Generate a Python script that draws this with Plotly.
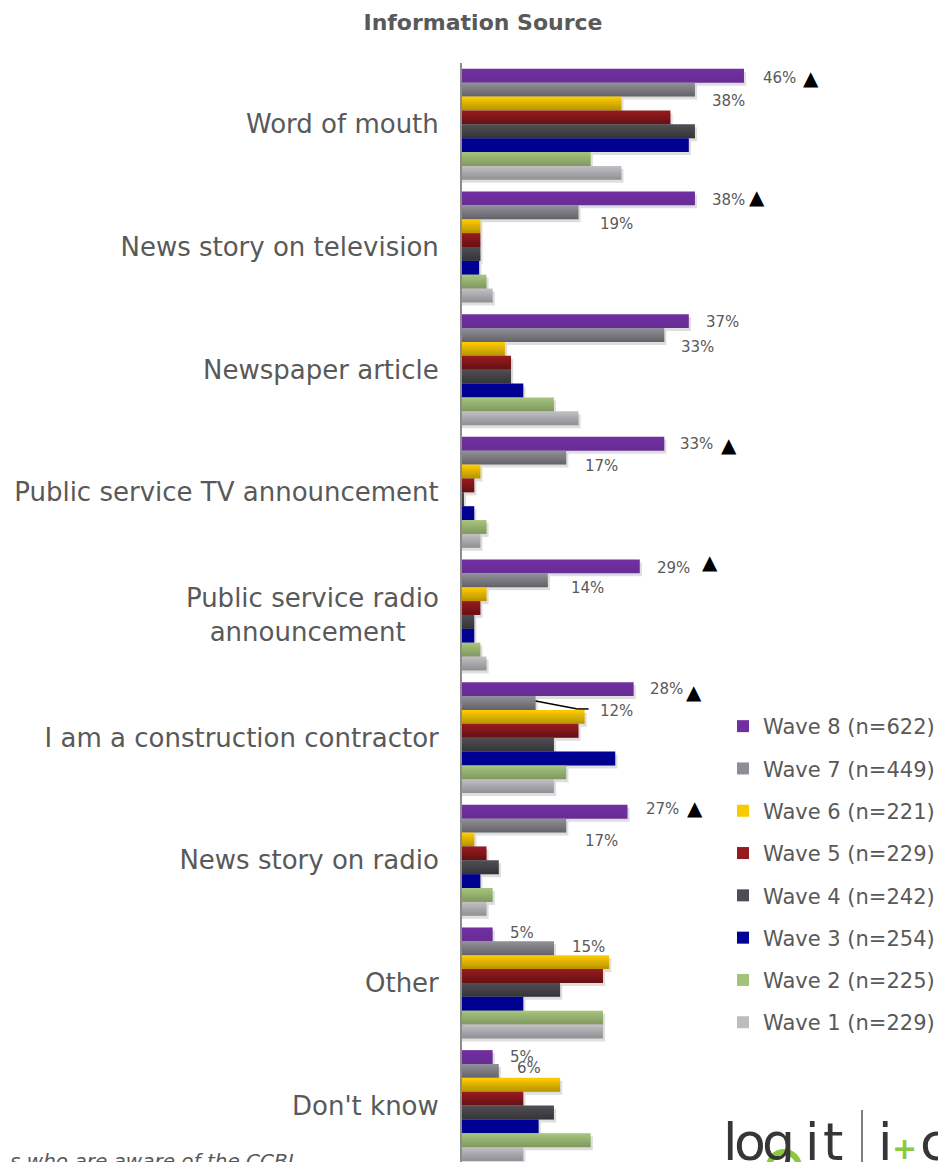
import plotly.graph_objects as go

# ---- data -----------------------------------------------------------------
categories = [
    "Word of mouth",
    "News story on television",
    "Newspaper article",
    "Public service TV announcement",
    "Public service radio<br>announcement\u00a0\u00a0\u00a0\u00a0",
    "I am a construction contractor",
    "News story on radio",
    "Other",
    "Don't know",
]

series_names = [
    "Wave 8 (n=622)", "Wave 7 (n=449)", "Wave 6 (n=221)", "Wave 5 (n=229)",
    "Wave 4 (n=242)", "Wave 3 (n=254)", "Wave 2 (n=225)", "Wave 1 (n=229)",
]

wave8 = [46, 38, 37, 33, 29, 28, 27, 5, 5]
wave7 = [38, 19, 33, 17, 14, 12, 17, 15, 6]
wave6 = [26, 3, 7, 3, 4, 20, 2, 24, 16]
wave5 = [34, 3, 8, 2, 3, 19, 4, 23, 10]
wave4 = [38, 3, 8, 0.3, 2, 15, 6, 16, 15]
wave3 = [37, 2.8, 10, 2, 2, 25, 3, 10, 12.5]
wave2 = [21, 4, 15, 4, 3, 17, 5, 23, 21]
wave1 = [26, 5, 19, 3, 4, 15, 4, 23, 10]

series_values = [wave8, wave7, wave6, wave5, wave4, wave3, wave2, wave1]

# significant increase markers (category indices with a triangle after Wave 8 label)
significant = [0, 1, 3, 4, 5, 6]

# ---- styling ----------------------------------------------------------------
colors = ["#7030A0", "#8E8D95", "#FBC900", "#951A1E",
          "#4E4D53", "#000096", "#A4C27A", "#BDBCC1"]
# how strongly each series darkens toward the bottom edge
shade_strength = [0.06, 0.28, 0.25, 0.3, 0.3, 0.05, 0.2, 0.22]

FONT = "DejaVu Sans"
TEXT = "#595959"
LOGO = "#363636"
LOGO_GREEN = "#8DC63F"

W = 938
H = 1162
PLOT_L = 462
PLOT_T = 63
PX_PER_UNIT = 6.13            # pixels per percentage point
CAT_PX = 122.66               # pixels per category band

n_series = len(series_values)
bar_w = 0.1131
start = -bar_w * n_series / 2

fig = go.Figure()

# soft drop shadows
for i, vals in enumerate(series_values):
    fig.add_trace(go.Bar(
        y=list(range(len(categories))), x=[v + 0.35 for v in vals],
        orientation="h", width=bar_w, offset=start + i * bar_w + 3 / CAT_PX,
        marker=dict(color="rgba(0,0,0,0.13)", line=dict(width=0)),
        showlegend=False, hoverinfo="skip", legendgroup=f"g{i}",
    ))

# main bars
for i, vals in enumerate(series_values):
    fig.add_trace(go.Bar(
        y=list(range(len(categories))), x=vals, name=series_names[i],
        orientation="h", width=bar_w, offset=start + i * bar_w,
        marker=dict(color=colors[i], line=dict(width=0)),
        legendgroup=f"g{i}",
    ))

# vertical gradient: darker bands toward the bottom of every bar
n_bands = 6
for i, vals in enumerate(series_values):
    for b in range(1, n_bands):
        a = shade_strength[i] * b / (n_bands - 1)
        fig.add_trace(go.Bar(
            y=list(range(len(categories))), x=vals,
            orientation="h", width=bar_w / n_bands,
            offset=start + i * bar_w + b * bar_w / n_bands,
            marker=dict(color=f"rgba(0,0,0,{a:.3f})", line=dict(width=0)),
            showlegend=False, hoverinfo="skip", legendgroup=f"g{i}",
        ))

# ---- value labels -------------------------------------------------------------
def bar_center(cat, i):
    return cat + start + i * bar_w + bar_w / 2

# pixel offsets of the Wave 8 / Wave 7 labels from their bar ends
w8_dx = [17, 15, 15, 14, 15, 14, 16, 15, 15]
w8_dy = [2, 1.5, 1, 0, 2, 0, -3, -1, 0]
w7_dx = [15, 20, 15, 17, 21, 62, 17, 16, 16]
w7_dy = [11, 12, 12, 8, 8, 8, 15, -1, -3]
tri_dx = {0: 67, 1: 62, 3: 65, 4: 70, 5: 60, 6: 67}
tri_dy = {0: 2, 1: -1, 3: 1, 4: -4, 5: 3, 6: -4}

annotations = []
for c in range(len(categories)):
    for i, (dxs, dys) in enumerate([(w8_dx, w8_dy), (w7_dx, w7_dy)]):
        v = series_values[i][c]
        annotations.append(dict(
            x=v, y=bar_center(c, i), xref="x", yref="y",
            text=f"{v:g}%", showarrow=False, xanchor="left", yanchor="middle",
            xshift=dxs[c], yshift=-dys[c],
            font=dict(family=FONT, size=15, color=TEXT),
        ))
for c in significant:
    annotations.append(dict(
        x=wave8[c], y=bar_center(c, 0), xref="x", yref="y",
        text="\u25B2", showarrow=False, xanchor="center", yanchor="middle",
        xshift=tri_dx[c], yshift=-tri_dy[c],
        font=dict(family=FONT, size=20, color="#000000"),
    ))

# leader line for the displaced Wave 7 label of the contractor row
lead_cat = 5
shapes = []
for (x0, y0, x1, y1) in [(0, 2, 42, -6), (42, -6, 53, -6)]:
    shapes.append(dict(
        type="line", xref="x", yref="y",
        xsizemode="pixel", ysizemode="pixel",
        xanchor=wave7[lead_cat], yanchor=bar_center(lead_cat, 1),
        x0=x0, x1=x1, y0=y0, y1=y1,
        line=dict(color="#000000", width=1.5),
    ))

def px_x(px):
    return (px - PLOT_L) / (W - PLOT_L)

def px_y(py):
    return (H - py) / (H - PLOT_T)

# footnote (runs off the bottom-left edge)
annotations.append(dict(
    x=px_x(296), y=px_y(1147),
    xref="paper", yref="paper", xanchor="right", yanchor="top",
    text="<i>s who are aware of the CCBI</i>", showarrow=False,
    font=dict(family=FONT, size=20, color=TEXT),
))

# logo, letter by letter (it runs off the bottom edge)
logo_letters = [("l", 730), ("o", 750), ("g", 778), ("i", 812), ("t", 833),
                ("i", 885), ("c", 934)]
LOGO_SIZE = 52
logo_top = 1110
# green swoosh under the "g"
shapes.append(dict(
    type="circle", xref="paper", yref="paper",
    x0=px_x(769), x1=px_x(799), y0=px_y(1182), y1=px_y(1152),
    line=dict(color=LOGO_GREEN, width=6), layer="above",
))
for ch, cx in logo_letters:
    annotations.append(dict(
        x=px_x(cx), y=px_y(logo_top), xref="paper", yref="paper",
        xanchor="center", yanchor="top", text=ch, showarrow=False,
        font=dict(family=FONT, size=LOGO_SIZE, color=LOGO),
    ))
annotations.append(dict(
    x=px_x(904), y=px_y(1148), xref="paper", yref="paper",
    xanchor="center", yanchor="middle", text="+", showarrow=False,
    font=dict(family="DejaVu Sans", size=30, color=LOGO_GREEN, weight="bold"),
))
shapes.append(dict(
    type="line", xref="paper", yref="paper",
    x0=px_x(862), x1=px_x(862), y0=0, y1=px_y(1110),
    line=dict(color="#555555", width=1.5),
))

# category boundary ticks on the left of the axis
for k in range(len(categories) + 1):
    shapes.append(dict(
        type="line", xref="x", yref="y", xsizemode="pixel",
        xanchor=0, x0=-9, x1=-1, y0=k - 0.5, y1=k - 0.5,
        line=dict(color="#8C8C8C", width=2),
    ))

# ---- layout -----------------------------------------------------------------
plot_h = H - PLOT_T
span = plot_h / CAT_PX

fig.update_layout(
    width=W, height=H,
    margin=dict(l=PLOT_L, r=0, t=PLOT_T, b=0, pad=0, autoexpand=False),
    paper_bgcolor="white", plot_bgcolor="white",
    barmode="overlay",
    title=dict(
        text="<b>Information Source</b>", xref="container", yref="container",
        x=483 / W, y=1 - 22 / H, xanchor="center", yanchor="middle",
        font=dict(family=FONT, size=22, color=TEXT),
    ),
    xaxis=dict(
        range=[0, (W - PLOT_L) / PX_PER_UNIT], visible=False, fixedrange=True,
    ),
    yaxis=dict(
        type="linear",
        range=[-0.5 + span, -0.5],
        tickmode="array",
        tickvals=list(range(len(categories))),
        ticktext=categories,
        showline=True, linecolor="#8C8C8C", linewidth=2,
        ticks="", showgrid=False, zeroline=False,
        ticklabelstandoff=16,
        tickfont=dict(family=FONT, size=26, color=TEXT),
    ),
    legend=dict(
        xref="container", yref="container",
        x=723 / W, y=1 - 706 / H, xanchor="left", yanchor="top",
        font=dict(family=FONT, size=21, color=TEXT),
        tracegroupgap=12, itemwidth=30,
        bgcolor="rgba(0,0,0,0)",
    ),
    annotations=annotations,
    shapes=shapes,
)

fig.write_html("out.html")
